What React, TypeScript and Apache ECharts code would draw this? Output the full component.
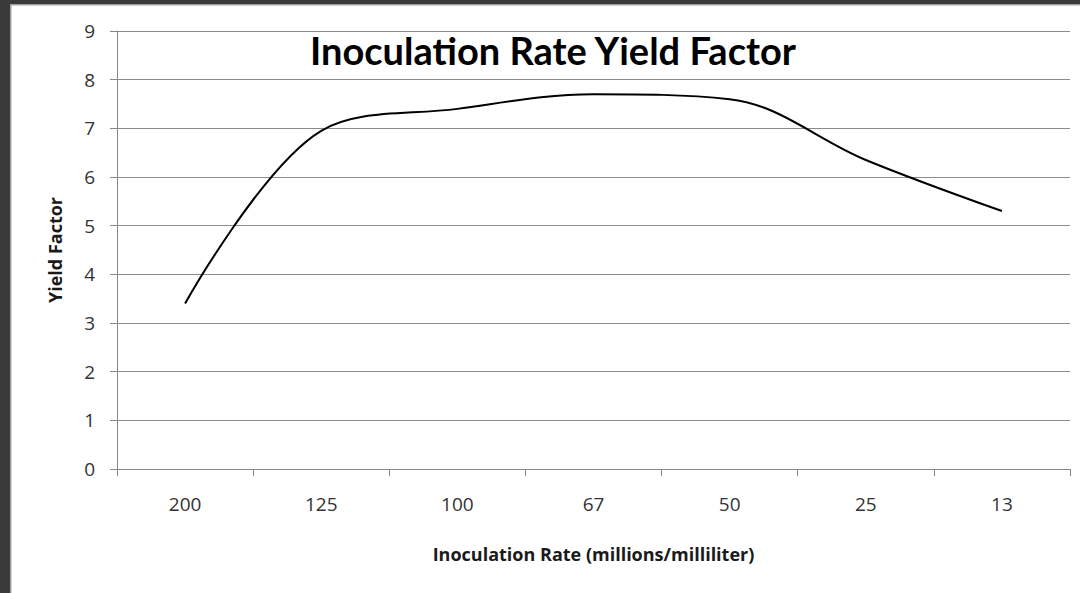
import React, { useEffect, useRef } from "react";
import * as echarts from "echarts";

const categories = ["200", "125", "100", "67", "50", "25", "13"];
const yieldFactor = [3.4, 6.95, 7.4, 7.7, 7.6, 6.35, 5.3];
const yTicks = { min: 0, max: 9, interval: 1 };

const FONT = "'Open Sans', 'Noto Sans', sans-serif";

export default function App() {
  const ref = useRef<HTMLDivElement>(null);
  useEffect(() => {
    if (!ref.current) return;
    const chart = echarts.init(ref.current, null, { renderer: "svg" });
    chart.setOption({
      animation: false,
      backgroundColor: "#ffffff",
      grid: { left: 117, right: 10, top: 31, bottom: 124 },
      graphic: [
        { type: "rect", shape: { x: 0, y: 0, width: 10, height: 593 }, style: { fill: "#3a3a3a" }, z: 10 },
        { type: "rect", shape: { x: 0, y: 0, width: 1080, height: 4 }, style: { fill: "#3a3a3a" }, z: 10 },
        { type: "rect", shape: { x: 10, y: 4, width: 1.5, height: 589 }, style: { fill: "#a0a0a0" }, z: 10 },
        { type: "rect", shape: { x: 10, y: 4, width: 1070, height: 1.5 }, style: { fill: "#a0a0a0" }, z: 10 },
        {
          type: "text",
          x: 553,
          y: 50,
          z: 10,
          style: {
            text: "Inoculation Rate Yield Factor",
            fontFamily: "Lato, 'Open Sans', sans-serif",
            fontWeight: "bold",
            fontSize: 38,
            fill: "#000000",
            textAlign: "center",
            textVerticalAlign: "middle",
          },
        },
      ],
      xAxis: {
        type: "category",
        data: categories,
        boundaryGap: true,
        name: "Inoculation Rate (millions/milliliter)",
        nameLocation: "middle",
        nameGap: 76,
        nameTextStyle: { fontFamily: FONT, fontWeight: "bold", fontSize: 18, color: "#1a1a1a" },
        axisLine: { lineStyle: { color: "#888888", width: 1 } },
        axisTick: { show: true, length: 7, alignWithLabel: false, lineStyle: { color: "#888888" } },
        axisLabel: { fontFamily: FONT, fontSize: 19, color: "#333333", margin: 25 },
        splitLine: { show: false },
      },
      yAxis: {
        type: "value",
        min: yTicks.min,
        max: yTicks.max,
        interval: yTicks.interval,
        name: "Yield Factor",
        nameLocation: "middle",
        nameGap: 53,
        nameRotate: 90,
        nameTextStyle: { fontFamily: FONT, fontWeight: "bold", fontSize: 18, color: "#1a1a1a" },
        axisLine: { show: true, lineStyle: { color: "#888888", width: 1 } },
        axisTick: { show: true, length: 7, lineStyle: { color: "#888888" } },
        axisLabel: { fontFamily: FONT, fontSize: 19, color: "#333333", margin: 22 },
        splitLine: { show: true, lineStyle: { color: "#8c8c8c", width: 1 } },
      },
      series: [
        {
          type: "line",
          data: yieldFactor,
          smooth: 0.35,
          showSymbol: false,
          symbol: "none",
          lineStyle: { color: "#000000", width: 2 },
        },
      ],
    });
    return () => chart.dispose();
  }, []);
  return (
    <div
      ref={ref}
      style={{ position: "fixed", left: 0, top: 0, width: 1080, height: 593 }}
    />
  );
}
